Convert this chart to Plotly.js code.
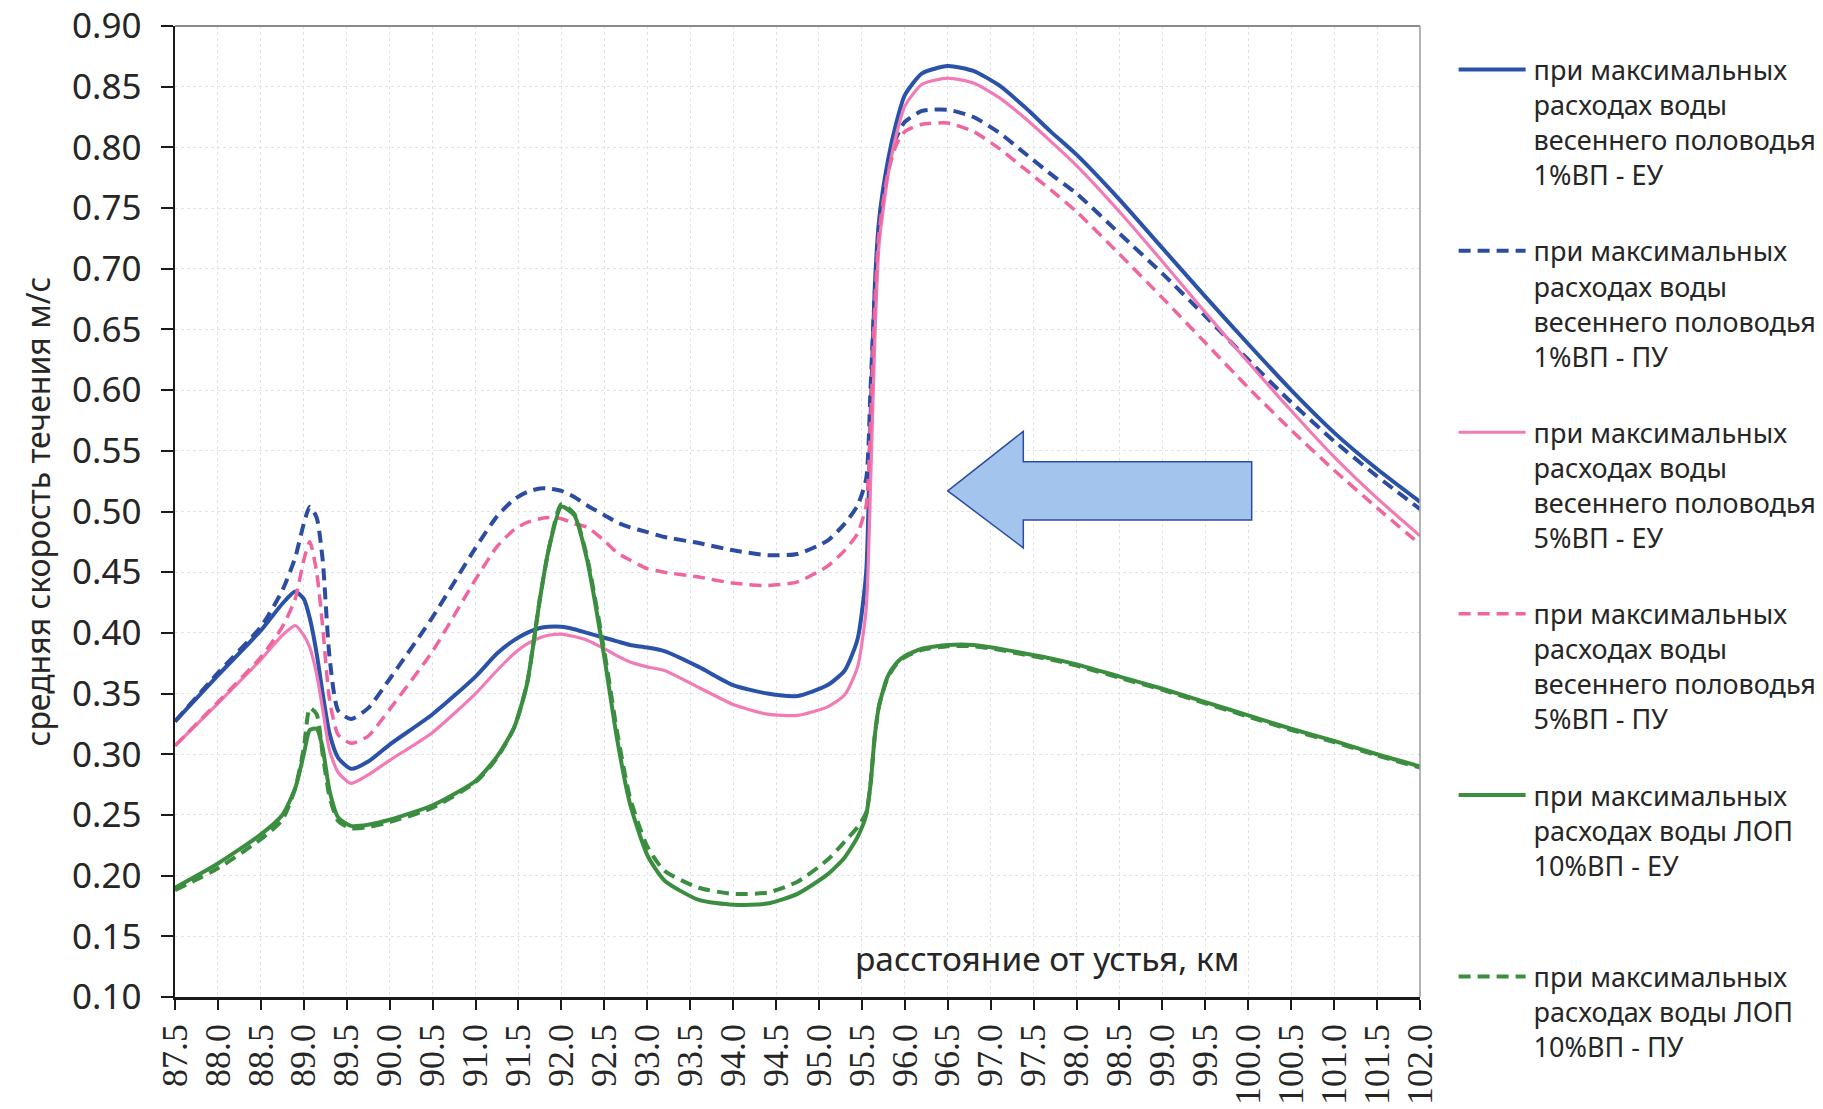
<!DOCTYPE html>
<html>
<head>
<meta charset="utf-8">
<script src="https://cdn.plot.ly/plotly-3.0.1.min.js"></script>
<style>html,body{margin:0;padding:0;background:#fff;}#chart{width:1823px;height:1109px;}</style>
</head>
<body>
<div id="chart"></div>
<script>
// distance from mouth, km
const km = [87.5, 88.0, 88.5, 88.75, 88.9, 89.0, 89.07, 89.15, 89.22, 89.3, 89.4, 89.55, 89.75, 90.0, 90.5, 91.0, 91.25, 91.45, 91.6, 91.75, 91.85, 92.0, 92.15, 92.3, 92.5, 92.65, 92.8, 93.0, 93.2, 93.6, 94.0, 94.4, 94.75, 95.1, 95.3, 95.45, 95.55, 95.6, 95.65, 95.7, 95.8, 95.9, 96.0, 96.2, 96.5, 96.8, 97.1, 97.4, 97.7, 98.0, 98.5, 99.0, 99.5, 100.0, 100.5, 101.0, 101.5, 102.0];

const vp1_EU = [0.327, 0.365, 0.402, 0.424, 0.434, 0.428, 0.412, 0.383, 0.350, 0.317, 0.297, 0.288, 0.294, 0.308, 0.333, 0.364, 0.383, 0.394, 0.400, 0.404, 0.405, 0.405, 0.403, 0.400, 0.396, 0.393, 0.390, 0.388, 0.385, 0.372, 0.357, 0.350, 0.348, 0.357, 0.369, 0.395, 0.450, 0.575, 0.685, 0.740, 0.788, 0.820, 0.843, 0.861, 0.867, 0.863, 0.851, 0.833, 0.813, 0.794, 0.757, 0.717, 0.677, 0.638, 0.600, 0.565, 0.535, 0.508];

const vp1_PU = [0.327, 0.367, 0.405, 0.435, 0.462, 0.490, 0.504, 0.495, 0.460, 0.380, 0.336, 0.329, 0.338, 0.362, 0.413, 0.470, 0.496, 0.510, 0.516, 0.519, 0.519, 0.517, 0.512, 0.505, 0.497, 0.491, 0.487, 0.483, 0.479, 0.474, 0.468, 0.464, 0.465, 0.476, 0.490, 0.505, 0.527, 0.600, 0.680, 0.730, 0.785, 0.808, 0.821, 0.830, 0.831, 0.825, 0.812, 0.795, 0.778, 0.762, 0.729, 0.696, 0.661, 0.625, 0.590, 0.558, 0.529, 0.502];

const vp5_EU = [0.307, 0.342, 0.378, 0.398, 0.406, 0.398, 0.388, 0.366, 0.337, 0.303, 0.285, 0.276, 0.283, 0.295, 0.318, 0.350, 0.369, 0.383, 0.391, 0.396, 0.398, 0.399, 0.397, 0.394, 0.387, 0.381, 0.376, 0.372, 0.369, 0.355, 0.341, 0.333, 0.332, 0.339, 0.349, 0.372, 0.420, 0.520, 0.640, 0.720, 0.775, 0.810, 0.834, 0.852, 0.857, 0.853, 0.841, 0.824, 0.805, 0.785, 0.747, 0.706, 0.664, 0.623, 0.583, 0.545, 0.511, 0.480];

const vp5_PU = [0.307, 0.343, 0.380, 0.405, 0.428, 0.460, 0.475, 0.450, 0.405, 0.345, 0.316, 0.309, 0.315, 0.337, 0.385, 0.444, 0.471, 0.485, 0.491, 0.494, 0.495, 0.494, 0.490, 0.487, 0.476, 0.466, 0.460, 0.453, 0.450, 0.446, 0.441, 0.439, 0.442, 0.455, 0.468, 0.482, 0.505, 0.570, 0.670, 0.730, 0.778, 0.802, 0.813, 0.819, 0.820, 0.813, 0.799, 0.782, 0.765, 0.747, 0.712, 0.676, 0.639, 0.602, 0.567, 0.534, 0.503, 0.473];

const lop10_EU = [0.190, 0.210, 0.234, 0.250, 0.272, 0.300, 0.320, 0.321, 0.305, 0.270, 0.248, 0.241, 0.242, 0.246, 0.258, 0.278, 0.298, 0.322, 0.358, 0.428, 0.468, 0.504, 0.497, 0.460, 0.380, 0.312, 0.259, 0.217, 0.196, 0.180, 0.176, 0.177, 0.185, 0.201, 0.215, 0.232, 0.250, 0.275, 0.315, 0.340, 0.364, 0.375, 0.381, 0.387, 0.390, 0.390, 0.387, 0.383, 0.379, 0.374, 0.364, 0.354, 0.343, 0.332, 0.321, 0.311, 0.300, 0.290];

const lop10_PU = [0.188, 0.206, 0.230, 0.246, 0.272, 0.305, 0.338, 0.333, 0.300, 0.265, 0.245, 0.239, 0.240, 0.244, 0.256, 0.277, 0.297, 0.322, 0.358, 0.428, 0.468, 0.506, 0.498, 0.462, 0.385, 0.318, 0.264, 0.224, 0.204, 0.190, 0.185, 0.186, 0.195, 0.213, 0.228, 0.240, 0.252, 0.275, 0.315, 0.340, 0.363, 0.374, 0.380, 0.386, 0.389, 0.389, 0.386, 0.382, 0.378, 0.373, 0.363, 0.353, 0.342, 0.331, 0.320, 0.310, 0.299, 0.289];

const seriesNames = [
  "при максимальных<br>расходах воды<br>весеннего половодья<br>1%ВП - ЕУ",
  "при максимальных<br>расходах воды<br>весеннего половодья<br>1%ВП - ПУ",
  "при максимальных<br>расходах воды<br>весеннего половодья<br>5%ВП - ЕУ",
  "при максимальных<br>расходах воды<br>весеннего половодья<br>5%ВП - ПУ",
  "при максимальных<br>расходах воды ЛОП<br>10%ВП - ЕУ<br> ",
  "при максимальных<br>расходах воды ЛОП<br>10%ВП - ПУ"
];

const yTitle = "средняя скорость течения м/с";
const xTitle = "расстояние от устья, км";

const seriesValues = [vp1_EU, vp1_PU, vp5_EU, vp5_PU, lop10_EU, lop10_PU];
const styles = [
  {color: '#2a52a8', width: 4, dash: 'solid'},
  {color: '#2b4ca0', width: 4, dash: '12px,7px'},
  {color: '#f27bb5', width: 3.2, dash: 'solid'},
  {color: '#f0659f', width: 3.5, dash: '12px,7px'},
  {color: '#3b8e3f', width: 4, dash: 'solid'},
  {color: '#3b8e3f', width: 4, dash: '12px,7px'}
];

const data = seriesValues.map((vals, i) => ({
  type: 'scatter',
  mode: 'lines',
  x: km,
  y: vals,
  name: seriesNames[i],
  legendgroup: 'g' + i,
  line: {color: styles[i].color, width: styles[i].width, dash: styles[i].dash, shape: 'spline', smoothing: 0.6},
  hoverinfo: 'skip'
}));

const layout = {
  width: 1823,
  height: 1109,
  margin: {l: 175, r: 403, t: 26, b: 112, pad: 0, autoexpand: false},
  paper_bgcolor: '#ffffff',
  plot_bgcolor: '#ffffff',
  font: {family: '"Noto Sans", "Open Sans", sans-serif', color: '#262626'},
  showlegend: true,
  legend: {
    x: 1.027, xanchor: 'left', y: 0.98, yanchor: 'top',
    font: {size: 27, family: '"Noto Sans", sans-serif', color: '#262626'},
    valign: 'top',
    traceorder: 'grouped',
    tracegroupgap: 38,
    itemwidth: 70,
    maxheight: 1100,
    bgcolor: 'rgba(0,0,0,0)',
    borderwidth: 0
  },
  xaxis: {
    range: [87.5, 102.0],
    dtick: 0.5,
    tick0: 87.5,
    tickformat: '.1f',
    tickangle: -90,
    ticks: 'outside',
    ticklen: 10,
    tickwidth: 2,
    tickcolor: '#1a1a1a',
    tickfont: {family: '"Liberation Serif", "Times New Roman", serif', size: 36, color: '#262626'},
    showline: true,
    linecolor: '#1a1a1a',
    linewidth: 2.5,
    showgrid: true,
    gridcolor: '#e2e2e8',
    griddash: 'dot',
    gridwidth: 1,
    zeroline: false,
    automargin: false,
    fixedrange: true
  },
  yaxis: {
    range: [0.10, 0.90],
    dtick: 0.05,
    tick0: 0.10,
    tickformat: '.2f',
    ticks: 'outside',
    ticklen: 12,
    tickwidth: 2,
    tickcolor: '#1a1a1a',
    ticklabelstandoff: 12,
    tickfont: {family: '"Noto Sans", sans-serif', size: 35, color: '#262626'},
    showline: true,
    linecolor: '#1a1a1a',
    linewidth: 2.5,
    showgrid: true,
    gridcolor: '#e2e2e8',
    griddash: 'dot',
    gridwidth: 1,
    zeroline: false,
    automargin: false,
    fixedrange: true,
    title: {text: yTitle, font: {family: '"Noto Sans", sans-serif', size: 32, color: '#262626'}, standoff: 12}
  },
  shapes: [
    {type: 'line', xref: 'paper', yref: 'paper', x0: 0, x1: 1, y0: 1, y1: 1, line: {color: '#8a8a8a', width: 2}},
    {type: 'line', xref: 'paper', yref: 'paper', x0: 1, x1: 1, y0: 0, y1: 1, line: {color: '#9a9a9a', width: 1.5}},
    {type: 'path', xref: 'x', yref: 'y',
     path: 'M 96.50 0.517 L 97.38 0.566 L 97.38 0.541 L 100.04 0.541 L 100.04 0.493 L 97.38 0.493 L 97.38 0.470 Z',
     fillcolor: '#a3c4ec', line: {color: '#2b4ca0', width: 1.5}, layer: 'above'}
  ],
  annotations: [
    {text: xTitle, xref: 'paper', yref: 'paper', x: 0.70, y: 0.040, xanchor: 'center', yanchor: 'middle',
     showarrow: false, font: {family: '"Noto Sans", sans-serif', size: 33.5, color: '#262626'}}
  ]
};

const gd = document.getElementById('chart');
Plotly.newPlot(gd, data, layout, {displayModeBar: false, staticPlot: true}).then(function () {
  gd.querySelectorAll('.legendlines path').forEach(function (p) { p.setAttribute('d', 'M5,0h67'); });
});
</script>
</body>
</html>
